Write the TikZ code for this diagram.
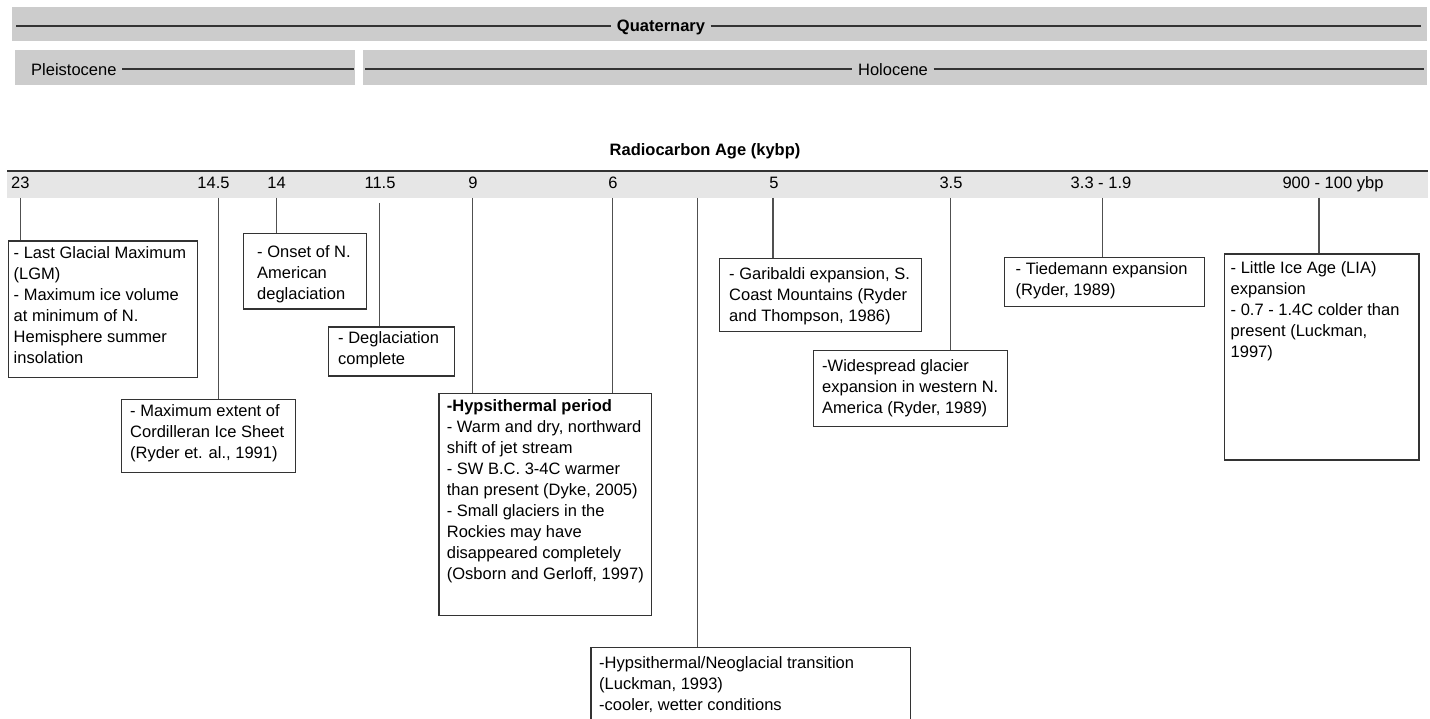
\documentclass[tikz,border=0pt]{standalone}
\usepackage{fontspec}
\setmainfont{Liberation Sans}
\definecolor{barA}{HTML}{CCCCCC}
\definecolor{barB}{HTML}{E6E6E6}
\definecolor{ink}{HTML}{333333}
\definecolor{connc}{HTML}{505050}
\newcommand{\fs}{\fontsize{16.5}{21}\selectfont}
\begin{document}
\begin{tikzpicture}[x=1pt,y=-1pt,
  evbox/.style={draw=ink, line width=1.4pt, rectangle, inner sep=0, anchor=north west},
  evtext/.style={anchor=north west, align=left, inner sep=0, font=\fs, text=black},
  conn/.style={draw=connc, line width=1.5pt},
  barline/.style={draw=ink, line width=2pt},
  bartext/.style={font=\fs, inner xsep=5.5pt, inner ysep=0pt, text=black},
  axlab/.style={font=\fs, anchor=base, inner sep=0, text=black}]
\useasboundingbox (0,0) rectangle (1430,719);
\clip (0,0) rectangle (1430,719);
\fill[white] (0,0) rectangle (1430,719);

% ---- period bars
\fill[barA] (12,7.5) rectangle (1427,41.5);
\coordinate (q0) at (16,25.7);
\coordinate (q1) at (1421,25.7);
\node[bartext, font=\fs\bfseries, fill=barA, anchor=base] (quat) at (661,31.7) {Quaternary};
\draw[barline] (q0) -- (quat.west |- q0);
\draw[barline] (quat.east |- q1) -- (q1);

\fill[barA] (15,50) rectangle (355,85);
\coordinate (p1) at (353.5,69.3);
\node[bartext, fill=barA, anchor=base west] (pleist) at (25.5,75.3) {Pleistocene};
\draw[barline] (pleist.east |- p1) -- (p1);

\fill[barA] (362.5,50) rectangle (1427,85);
\coordinate (h0) at (365,69.3);
\coordinate (h1) at (1424,69.3);
\node[bartext, fill=barA, anchor=base] (holo) at (893,75.3) {Holocene};
\draw[barline] (h0) -- (holo.west |- h0);
\draw[barline] (holo.east |- h1) -- (h1);

% ---- axis
\node[font=\fs\bfseries, anchor=base, inner sep=0] (axtitle) at (705,156) {Radiocarbon Age (kybp)};
\fill[barB] (7,170) rectangle (1428,198);
\coordinate (ax0) at (7,171);
\coordinate (ax1) at (1428,171);
\draw[draw=ink, line width=2pt] (ax0) -- (ax1);

\node[axlab, anchor=base west] (l23) at (11,189) {23};
\node[axlab] (l145) at (213.5,189) {14.5};
\node[axlab] (l14) at (276.6,189) {14};
\node[axlab] (l115) at (380,189) {11.5};
\node[axlab] (l9) at (473,189) {9};
\node[axlab] (l6) at (613,189) {6};
\node[axlab] (l5) at (774,189) {5};
\node[axlab] (l35) at (951,189) {3.5};
\node[axlab] (l33) at (1101,189) {3.3 - 1.9};
\node[axlab] (l900) at (1333,189) {900 - 100 ybp};

\coordinate (t23) at (20.5,198);
\coordinate (t145) at (218.5,198);
\coordinate (t14) at (276.3,198);
\coordinate (t115) at (379.3,203);
\coordinate (t9) at (472.5,198);
\coordinate (t6) at (612.7,198);
\coordinate (tn) at (697.3,198);
\coordinate (t5) at (773,198);
\coordinate (t35) at (950.5,198);
\coordinate (t33) at (1102.5,198);
\coordinate (t900) at (1319,198);

% ---- event boxes
\node[evbox, minimum width=189.5pt, minimum height=136pt] (lgm) at (7.5,240.5) {};
\node[evtext] (lgmt) at (13.5,243.6) {\strut- Last Glacial Maximum\\(LGM)\\- Maximum ice volume\\at minimum of N.\\Hemisphere summer\\insolation};

\node[evbox, minimum width=174pt, minimum height=73pt] (cord) at (121,399) {};
\node[evtext] (cordt) at (130,402) {\strut- Maximum extent of\\Cordilleran Ice Sheet\\(Ryder et. al., 1991)};

\node[evbox, minimum width=123pt, minimum height=75.5pt] (onset) at (243,232.7) {};
\node[evtext] (onsett) at (257,242.3) {\strut- Onset of N.\\American\\deglaciation};

\node[evbox, minimum width=126pt, minimum height=49pt] (degl) at (328,326.3) {};
\node[evtext] (deglt) at (338,329) {\strut- Deglaciation\\complete};

\node[evbox, minimum width=212.7pt, minimum height=222pt] (hyps) at (438.3,392.5) {};
\node[evtext] (hypst) at (446.7,396.3) {\strut\textbf{-Hypsithermal period}\\- Warm and dry, northward\\shift of jet stream\\- SW B.C. 3-4C warmer\\than present (Dyke, 2005)\\- Small glaciers in the\\Rockies may have\\disappeared completely\\(Osborn and Gerloff, 1997)};

\node[evbox, minimum width=319.7pt, minimum height=100pt] (neo) at (590.3,646.7) {};
\node[evtext] (neot) at (599,654) {\strut-Hypsithermal/Neoglacial transition\\(Luckman, 1993)\\-cooler, wetter conditions};

\node[evbox, minimum width=202.4pt, minimum height=73pt] (gari) at (718.6,257.7) {};
\node[evtext] (garit) at (729,264.6) {\strut- Garibaldi expansion, S.\\Coast Mountains (Ryder\\and Thompson, 1986)};

\node[evbox, minimum width=194pt, minimum height=76pt] (wide) at (813,350) {};
\node[evtext] (widet) at (822,356.3) {\strut-Widespread glacier\\expansion in western N.\\America (Ryder, 1989)};

\node[evbox, minimum width=200.2pt, minimum height=49.3pt] (tied) at (1003.5,256.7) {};
\node[evtext] (tiedt) at (1015.5,259.6) {\strut- Tiedemann expansion\\(Ryder, 1989)};

\node[evbox, minimum width=194.6pt, minimum height=206pt] (lia) at (1223.7,253.3) {};
\node[evtext] (liat) at (1230.5,258.6) {\strut- Little Ice Age (LIA)\\expansion\\- 0.7 - 1.4C colder than\\present (Luckman,\\1997)};

% ---- connectors
\draw[conn] (t23) -- (t23 |- lgm.north);
\draw[conn] (t145) -- (t145 |- cord.north);
\draw[conn] (t14) -- (t14 |- onset.north);
\draw[conn] (t115) -- (t115 |- degl.north);
\draw[conn] (t9) -- (t9 |- hyps.north);
\draw[conn] (t6) -- (t6 |- hyps.north);
\draw[conn] (tn) -- (tn |- neo.north);
\draw[conn] (t5) -- (t5 |- gari.north);
\draw[conn] (t35) -- (t35 |- wide.north);
\draw[conn] (t33) -- (t33 |- tied.north);
\draw[conn] (t900) -- (t900 |- lia.north);
\end{tikzpicture}
\end{document}
